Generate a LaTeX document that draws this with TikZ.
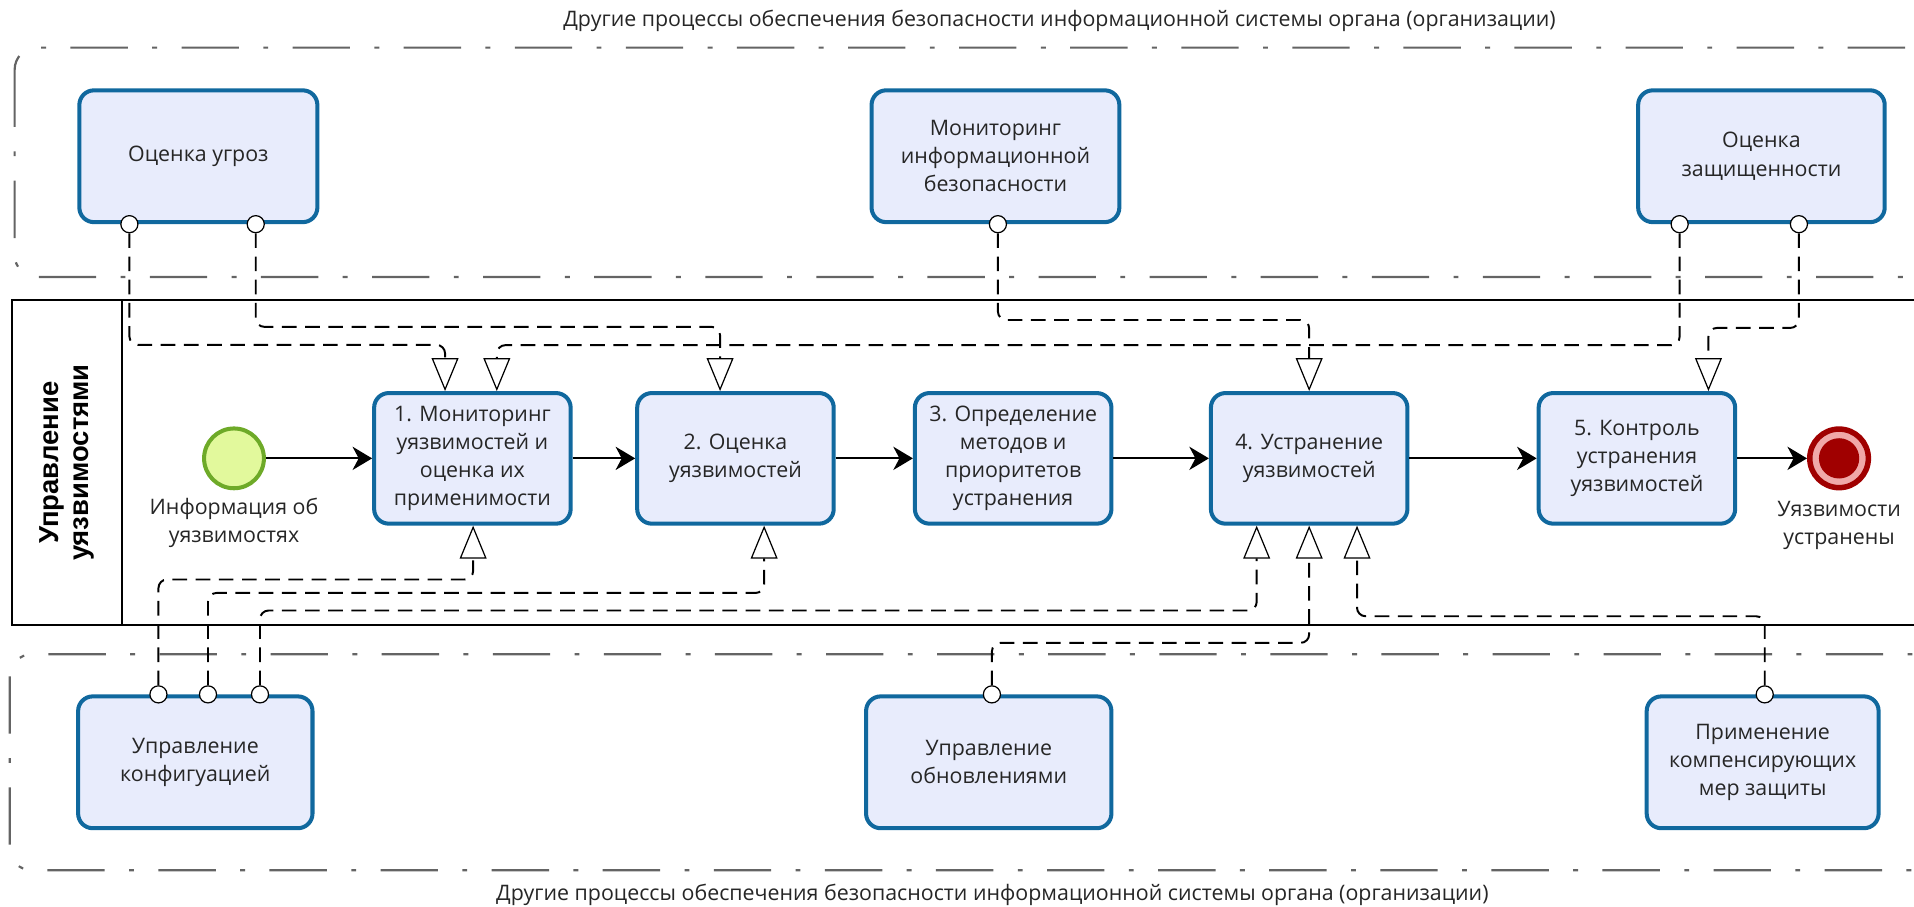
\documentclass[tikz,border=0pt]{standalone}
\usepackage{fontspec}
\setmainfont{Open Sans}
\newfontfamily\lanefont{Liberation Sans}
\usepackage{tikz}
\usetikzlibrary{arrows.meta}
\usetikzlibrary{positioning}

\definecolor{taskfill}{RGB}{232,236,252}
\definecolor{taskline}{RGB}{16,104,158}
\definecolor{startfill}{RGB}{226,249,156}
\definecolor{startline}{RGB}{110,170,40}
\definecolor{endred}{RGB}{160,0,0}
\definecolor{endpink}{RGB}{240,168,168}
\definecolor{groupline}{RGB}{100,100,100}

\tikzset{task/.style = {draw=taskline, fill=taskfill, line width=3.3pt, rounded corners=12pt,
                        minimum width=161pt, minimum height=107pt, inner sep=2pt,
                        align=center, text=black!85, font=\fontsize{17.5}{23}\selectfont},
         proc/.style = {task, minimum width=196pt, minimum height=108pt},
         note/.style = {align=center, inner sep=0pt, text=black!85, font=\fontsize{17.5}{23}\selectfont},
         knob/.style = {circle, draw, fill=white, line width=1pt, inner sep=0pt, minimum size=14pt},
         flow/.style = {line width=1.8pt, -{Stealth[length=16pt, width=19pt, inset=5pt]}},
         assoc/.style = {line width=1.6pt, dash pattern=on 12pt off 7pt, rounded corners=7pt,
                         -{Triangle[length=27pt, width=22pt, fill=white, line width=1pt]}},
         group/.style = {draw=groupline, line width=1.8pt, rounded corners=18pt,
                         dash pattern=on 47pt off 20pt on 4pt off 20pt},
         pool/.style = {line width=1.6pt}}

\begin{document}
\begin{tikzpicture}[x=1pt, y=-1pt]
    \useasboundingbox (0,0) rectangle (1568,743);

    % other processes, top and bottom
    \draw [group] (12,39) rectangle (1620,227);
    \draw [group] (8,536) rectangle (1620,713);
    \node [note] (toptitle) at (868,17) {Другие процессы обеспечения безопасности информационной системы органа (организации)};
    \node [note] (bottitle) at (813,733) {Другие процессы обеспечения безопасности информационной системы органа (организации)};

    % pool
    \draw [pool] (10,246) rectangle (1600,512);
    \draw [pool] (100,246) -- (100,512);
    \node [rotate=90, align=center, font=\lanefont\bfseries\fontsize{22.5}{25}\selectfont] (lanetitle) at (55,379) {Управление\\уязвимостями};

    % outer processes
    \node [proc, minimum width=195pt] (threat) at (162.5,128) {Оценка угроз};
    \node [proc, minimum width=203pt] (ismon) at (815.5,128) {Мониторинг\\информационной\\безопасности};
    \node [proc, minimum width=202pt] (secas) at (1443,128) {Оценка\\защищенности};
    \node [proc, minimum width=192pt] (conf) at (160,624.5) {Управление\\конфигуацией};
    \node [proc, minimum width=201pt] (upd) at (810,624.5) {Управление\\обновлениями};
    \node [proc, minimum width=190pt] (comp) at (1444,624.5) {Применение\\компенсирующих\\мер защиты};

    % process steps
    \node [circle, draw=startline, fill=startfill, line width=3.3pt, minimum size=49pt, inner sep=0pt] (info) at (191.7,375.5) {};
    \node [note, below=6pt of info] (infotext) {Информация об\\уязвимостях};
    \node [task] (t1) at (387,375.5) {1. Мониторинг\\уязвимостей и\\оценка их\\применимости};
    \node [task] (t2) at (602.5,375.5) {2. Оценка\\уязвимостей};
    \node [task] (t3) at (830,375.5) {3. Определение\\методов и\\приоритетов\\устранения};
    \node [task] (t4) at (1072.5,375.5) {4. Устранение\\уязвимостей};
    \node [task] (t5) at (1341,375.5) {5. Контроль\\устранения\\уязвимостей};
    \node [circle, draw=endred, fill=endpink, line width=4.5pt, minimum size=48pt, inner sep=0pt] (fixed) at (1506.6,375.5) {};
    \node [circle, fill=endred, minimum size=33pt, inner sep=0pt] (fixedcore) at (fixed) {};
    \node [note, below=9pt of fixed] (fixedtext) {Уязвимости\\устранены};

    \draw [flow] (info) -- (t1);
    \draw [flow] (t1) -- (t2);
    \draw [flow] (t2) -- (t3);
    \draw [flow] (t3) -- (t4);
    \draw [flow] (t4) -- (t5);
    \draw [flow] (t5) -- (fixed);

    % knobs
    \node [knob] (thr-a) at ([xshift=-56.5pt]threat.south) {};
    \node [knob] (thr-b) at ([xshift=47pt]threat.south) {};
    \node [knob] (mon-a) at ([xshift=2pt]ismon.south) {};
    \node [knob] (sec-a) at ([xshift=-67pt]secas.south) {};
    \node [knob] (sec-b) at ([xshift=30.7pt]secas.south) {};
    \node [knob] (conf-a) at ([xshift=-30.2pt]conf.north) {};
    \node [knob] (conf-b) at ([xshift=10.4pt]conf.north) {};
    \node [knob] (conf-c) at ([xshift=53pt]conf.north) {};
    \node [knob] (upd-a) at ([xshift=2.6pt]upd.north) {};
    \node [knob] (comp-a) at ([xshift=1.7pt]comp.north) {};

    % associations
    \draw [assoc] (thr-a.south) -- ++(0,91.4) -| ([xshift=-22.4pt]t1.north);
    \draw [assoc] (thr-b.south) -- ++(0,76.6) -| ([xshift=-12.6pt]t2.north);
    \draw [assoc] (sec-a.south) -- ++(0,91.6) -| ([xshift=20pt]t1.north);
    \draw [assoc] (mon-a.south) -- ++(0,71) -| (t4.north);
    \draw [assoc] (sec-b.south) -- ++(0,77.5) -| ([xshift=58.6pt]t5.north);
    \draw [assoc] (conf-a.north) -- ++(0,-86.6) -| ([xshift=0.6pt]t1.south);
    \draw [assoc] (conf-b.north) -- ++(0,-75.6) -| ([xshift=23.5pt]t2.south);
    \draw [assoc] (conf-c.north) -- ++(0,-61.2) -| ([xshift=-43pt]t4.south);
    \draw [assoc] (upd-a.north) -- ++(0,-34.7) -| (t4.south);
    \draw [assoc] (comp-a.north) -- ++(0,-56.5) -| ([xshift=39.2pt]t4.south);
\end{tikzpicture}
\end{document}
